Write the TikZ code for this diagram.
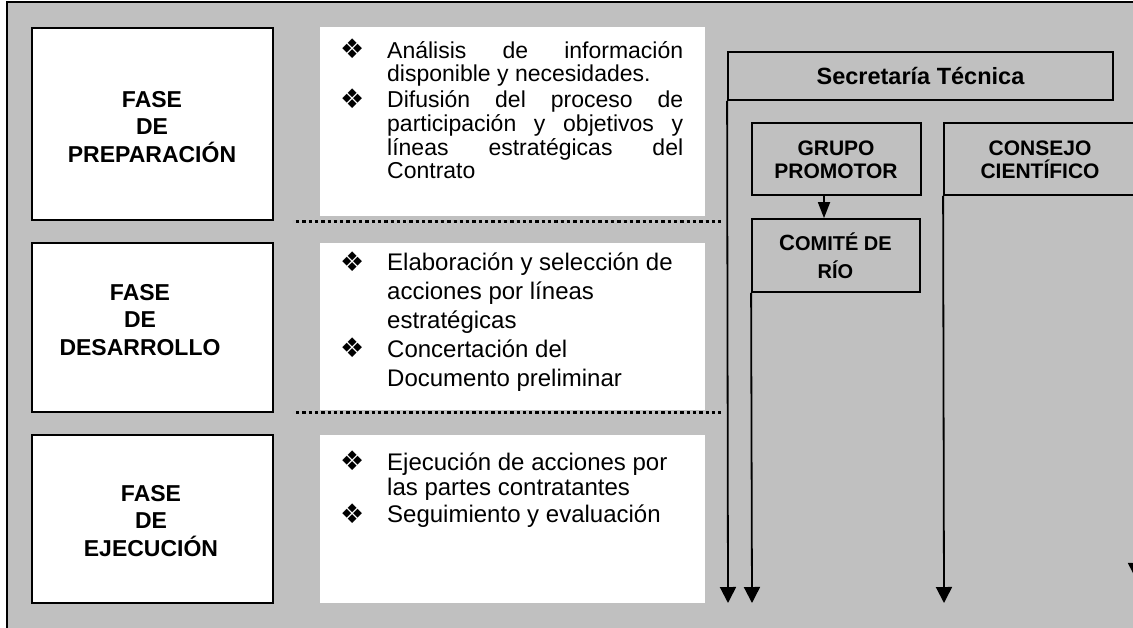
\documentclass[tikz,border=0pt]{standalone}
\usepackage{fontspec}
\setmainfont{Liberation Sans}
\newfontfamily\symfont{DejaVu Sans}
\usetikzlibrary{arrows.meta,calc}
\definecolor{bggray}{RGB}{192,192,192}
\newcommand{\mybul}{\hspace*{-2pt}\raisebox{-0.5pt}{\symfont\fontsize{27}{27}\selectfont ❖}}
\begin{document}
\begin{tikzpicture}[x=1pt,y=-1pt,
  boxline/.style={draw=black, line width=1.8pt},
  phasebox/.style={boxline, fill=white, minimum width=241pt, inner sep=0pt},
  wbox/.style={fill=white, draw=none, minimum width=385pt, inner sep=0pt},
  orgbox/.style={boxline, inner sep=0pt},
  phasetext/.style={font=\fontsize{23}{27.5}\selectfont\bfseries, align=center, inner sep=0pt, anchor=base},
  orgtext/.style={font=\fontsize{21}{23}\selectfont\bfseries, align=center, inner sep=0pt, anchor=base},
  listtext/.style={inner sep=0pt, anchor=base west},
  sepline/.style={line width=3pt, dash pattern=on 3.3pt off 3pt},
  downarrow/.style={line width=1.8pt, -{Triangle[width=16pt,length=16pt]}},
  smallarrow/.style={line width=1.8pt, -{Triangle[width=12pt,length=16pt]}}
]
\useasboundingbox (0,0) rectangle (1133,627);
\clip (0,0) rectangle (1133,627);
% background frame
\fill[bggray] (7,2) rectangle (1140,640);
\draw[line width=2pt] (7,640) -- (7,2) -- (1140,2);
% phase boxes
\node[phasebox, minimum height=192pt] (p1) at (152.5,124) {};
\node[phasebox, minimum height=169pt] (p2) at (152.5,327.5) {};
\node[phasebox, minimum height=168pt] (p3) at (152.5,519) {};
\node[phasetext] (p1t) at (152,162) {FASE\\DE\\PREPARACIÓN};
\node[phasetext] (p2t) at (140,355) {FASE\\DE\\DESARROLLO};
\node[phasetext] (p3t) at (151,556) {FASE\\DE\\EJECUCIÓN};
% white text boxes
\node[wbox, minimum height=189pt] (w1) at (512.5,121.5) {};
\node[wbox, minimum height=167pt] (w2) at (512.5,326.5) {};
\node[wbox, minimum height=168pt] (w3) at (512.5,519) {};
% dotted separators
\coordinate (d1a) at (296,221); \coordinate (d1b) at (723,221);
\coordinate (d2a) at (296,412); \coordinate (d2b) at (723,412);
\draw[sepline] (d1a) -- (d1b);
\draw[sepline] (d2a) -- (d2b);
% lists
\node[listtext, font=\fontsize{23}{23}\selectfont] (l1) at (342,58) {%
\begin{tabular}[t]{@{}p{45pt}@{}l@{}}
\mybul & \makebox[296pt][s]{Análisis de información}\\
 & disponible y necesidades.\\
\mybul & \makebox[296pt][s]{Difusión del proceso de}\\
 & \makebox[296pt][s]{participación y objetivos y}\\
 & \makebox[296pt][s]{líneas estratégicas del}\\
 & Contrato
\end{tabular}};
\node[listtext, font=\fontsize{24}{28.9}\selectfont] (l2) at (342,270.7) {%
\begin{tabular}[t]{@{}p{45pt}@{}l@{}}
\mybul & Elaboración y selección de\\
 & acciones por líneas\\
 & estratégicas\\
\mybul & Concertación del\\
 & Documento preliminar
\end{tabular}};
\node[listtext, font=\fontsize{24}{25.8}\selectfont] (l3) at (342,470) {%
\begin{tabular}[t]{@{}p{45pt}@{}l@{}}
\mybul & Ejecución de acciones por\\
 & las partes contratantes\\
\mybul & Seguimiento y evaluación
\end{tabular}};
% organisation
\node[orgbox, minimum width=385pt, minimum height=48pt, font=\fontsize{23.5}{26}\selectfont\bfseries, text height=16.5pt, text depth=0pt] (st) at (920.5,76) {Secretaría Técnica};
\node[orgbox, minimum width=169pt, minimum height=72pt] (gp) at (836.5,159) {};
\node[orgtext] (gpt) at (836,178) {GRUPO\\PROMOTOR};
\node[orgbox, minimum width=168pt, minimum height=73pt] (cr) at (836,255.5) {};
\node[orgtext, font=\fontsize{20}{27.3}\selectfont\bfseries] (crt) at (835.5,278) {{\fontsize{22}{27.3}\selectfont C}OMITÉ DE\\RÍO};
\node[orgbox, minimum width=192pt, minimum height=72pt] (cc) at (1040,159) {};
\node[orgtext] (cct) at (1040,178) {CONSEJO\\CIENTÍFICO};
% arrows
\coordinate (a1) at (728,603);
\coordinate (a2) at (752,603);
\coordinate (a3) at (944,603);
\coordinate (a4) at (1136,579);
\draw[downarrow] (st.south west) -- (a1);
\draw[downarrow] (cr.south west) -- (a2);
\draw[downarrow] (cc.south west) -- (a3);
\draw[downarrow] (cc.south east) -- (a4);
\draw[smallarrow] ($(gp.south)+(-12.5,0)$) -- ($(cr.north)+(-12,0)$);
\end{tikzpicture}
\end{document}
